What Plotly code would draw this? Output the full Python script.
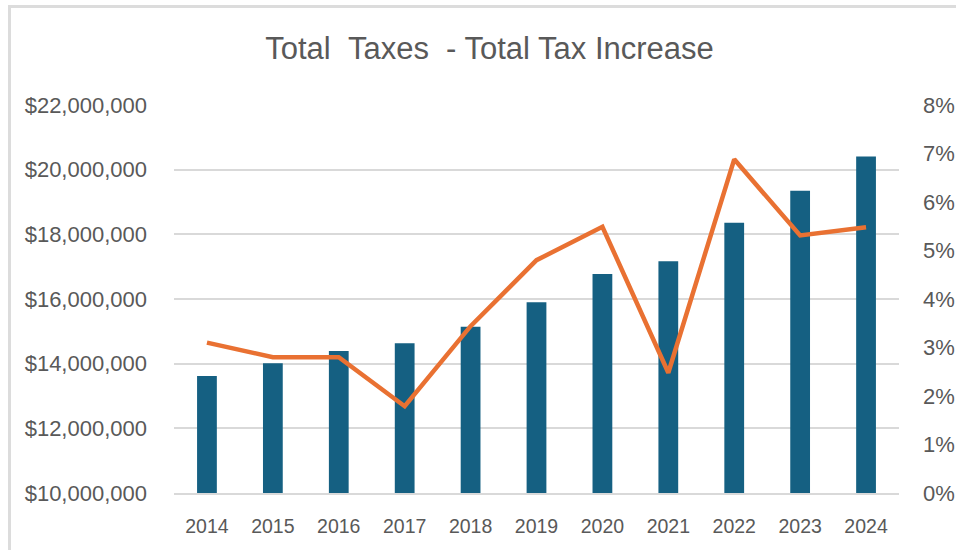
import plotly.graph_objects as go

years = ["2014", "2015", "2016", "2017", "2018", "2019", "2020", "2021", "2022", "2023", "2024"]
total_taxes = [13620000, 14010000, 14390000, 14630000, 15140000, 15900000,
               16770000, 17170000, 18360000, 19350000, 20410000]
tax_increase = [0.0310, 0.0280, 0.0280, 0.0179, 0.0344, 0.0480,
                0.0549, 0.0248, 0.0688, 0.0531, 0.0548]

title_text = "Total&nbsp;&nbsp;Taxes&nbsp;&nbsp;- Total Tax Increase"

BAR = "#156082"
LINE = "#E97132"
GRID = "#D9D9D9"
TXT = "#595959"
FONT = "Liberation Sans, Arial, sans-serif"

fig = go.Figure()
fig.add_trace(go.Bar(x=years, y=total_taxes, name="Total Taxes",
                     marker=dict(color=BAR, line=dict(width=0)), width=0.3))
fig.add_trace(go.Scatter(x=years, y=tax_increase, name="Total Tax Increase",
                         yaxis="y2", mode="lines",
                         line=dict(color=LINE, width=4.5)))

L, R, T, B = 174, 57, 105, 57
W, H = 956, 550
pw, ph = W - L - R, H - T - B

fig.update_layout(
    width=W, height=H,
    margin=dict(l=L, r=R, t=T, b=B, pad=0, autoexpand=False),
    paper_bgcolor="white", plot_bgcolor="white",
    showlegend=False,
    title=dict(text=title_text, x=(489.5 - L) / pw, xref="paper", xanchor="center",
               y=1 - 48 / H, yanchor="middle",
               font=dict(family=FONT, size=31, color=TXT)),
    xaxis=dict(type="category", showgrid=False, showline=True, linecolor=GRID, linewidth=1.5,
               ticks="", tickfont=dict(family=FONT, size=19.5, color=TXT),
               ticklabelstandoff=15, automargin=False),
    yaxis=dict(range=[10000000, 22000000], dtick=2000000, showgrid=True, gridcolor=GRID, gridwidth=1.5,
               zeroline=False, tickprefix="$", tickformat=",d",
               tickfont=dict(family=FONT, size=22, color=TXT),
               ticklabelstandoff=26, automargin=False),
    yaxis2=dict(range=[0, 0.08], dtick=0.01, overlaying="y", side="right", showgrid=False,
                zeroline=False, tickformat=".0%",
                tickfont=dict(family=FONT, size=22, color=TXT),
                ticklabelstandoff=23, automargin=False),
    bargap=0.7,
)

# chart frame (left and top edges visible)
fig.add_shape(type="rect", xref="paper", yref="paper",
              x0=(9.5 - L) / pw, x1=(W + 20 - L) / pw,
              y0=-(B + 20) / ph, y1=(H - B - 6.5) / ph,
              line=dict(color="#DCDCDC", width=3), fillcolor="rgba(0,0,0,0)", layer="above")

fig.write_html("out.html")
